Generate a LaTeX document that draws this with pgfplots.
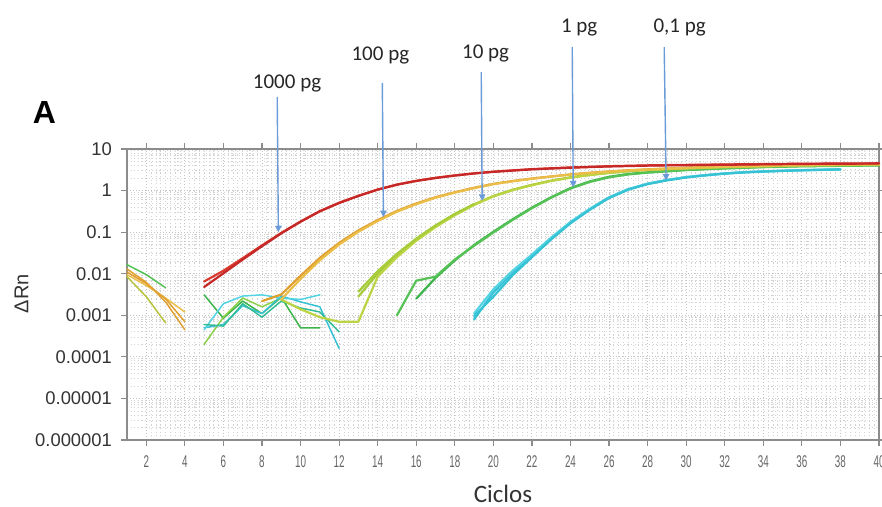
\documentclass[border=0pt]{standalone}
\usepackage{pgfplots}
\pgfplotsset{compat=1.18}
\usepackage{graphicx}
\usepackage{fontspec}
\setmainfont{Liberation Sans}
\newfontfamily\calibri{Carlito}
\usetikzlibrary{arrows.meta}

\definecolor{cRedA}{HTML}{C62828}
\definecolor{cRedB}{HTML}{DA3A2E}
\definecolor{cOrA}{HTML}{E0A030}
\definecolor{cOrB}{HTML}{EBBE4A}
\definecolor{cYgA}{HTML}{A6CC3A}
\definecolor{cYgB}{HTML}{BCD444}
\definecolor{cGrA}{HTML}{3CB44A}
\definecolor{cGrB}{HTML}{56C256}
\definecolor{cCyA}{HTML}{36C2D4}
\definecolor{cCyB}{HTML}{52D2E2}
\definecolor{cTeal}{HTML}{34BC98}
\definecolor{cLgr}{HTML}{8CD048}
\definecolor{cOlive}{HTML}{B8C43E}
\definecolor{cArrow}{HTML}{6A9BD8}
\definecolor{cAxis}{HTML}{8C8C8C}
\definecolor{cGrid}{HTML}{C4C4C4}

\begin{document}
\begin{tikzpicture}
\path[use as bounding box] (0,0) rectangle (441pt,253.5pt);

\begin{axis}[
  at={(63.5pt,33.5pt)}, anchor=south west,
  scale only axis, width=376pt, height=145.5pt,
  ymode=log, ymin=1e-6, ymax=10,
  xmin=1, xmax=40,
  clip=false,
  axis line style={draw=cAxis, line width=0.8pt},
  tick align=outside,
  major tick length=3pt, minor tick length=0pt,
  tick style={draw=cAxis, line width=0.6pt},
  xtick={2,4,...,40},
  minor x tick num=7,
  ytick={1e-6,1e-5,1e-4,1e-3,1e-2,1e-1,1,10},
  yticklabels={0.000001,0.00001,0.0001,0.001,0.01,0.1,1,10},
  minor ytick={2e-6,3e-6,4e-6,5e-6,6e-6,7e-6,8e-6,9e-6,
    2e-5,3e-5,4e-5,5e-5,6e-5,7e-5,8e-5,9e-5,
    2e-4,3e-4,4e-4,5e-4,6e-4,7e-4,8e-4,9e-4,
    0.002,0.003,0.004,0.005,0.006,0.007,0.008,0.009,
    0.02,0.03,0.04,0.05,0.06,0.07,0.08,0.09,
    0.2,0.3,0.4,0.5,0.6,0.7,0.8,0.9,
    2,3,4,5,6,7,8,9},
  grid=both,
  major grid style={draw=cGrid, line width=0.45pt, dash pattern=on 0.6pt off 0.9pt},
  minor grid style={draw=cGrid!75, line width=0.4pt, dash pattern=on 0.6pt off 1.2pt},
  yticklabel style={font=\fontsize{9.2}{10}\selectfont, text=black!80, anchor=east, xshift=-1pt},
  xticklabel={\scalebox{0.58}[1]{\pgfmathprintnumber[assume math mode=true]{\tick}}},
  xticklabel style={font=\fontsize{8.5}{9}\selectfont, text=black!60, anchor=north, yshift=-1.5pt},
  xlabel={Ciclos},
  xlabel style={font=\calibri\fontsize{12.5}{13}\selectfont, text=black!80,
    at={(axis description cs:0.5,0)}, anchor=base, yshift=-31pt},
  ylabel={ΔRn},
  ylabel style={font=\fontsize{10}{11}\selectfont, text=black!80,
    at={(axis description cs:-0.1403,0.503)}, anchor=center},
  every axis plot/.append style={line join=round, line cap=round},
]

% --- baseline noise, cycles 1-4
\addplot[cOrA, line width=0.75pt] coordinates {(1,0.013) (2,0.0062) (3,0.0021) (4,0.00045)};
\addplot[cOrB, line width=0.75pt] coordinates {(1,0.0095) (2,0.0052) (3,0.0026) (4,0.0012)};
\addplot[cOrA, line width=0.75pt] coordinates {(1,0.011) (2,0.0058) (3,0.0025) (4,0.0007)};
\addplot[cGrB, line width=0.75pt] coordinates {(1,0.0165) (2,0.0095) (3,0.0046)};
\addplot[cOlive, line width=0.75pt] coordinates {(1,0.0085) (2,0.0028) (3,0.00066)};

% --- baseline noise, cycles 5-13
\addplot[cGrA, line width=0.75pt] coordinates {(5,0.0031) (6,0.00085) (7,0.0022) (8,0.0011) (9,0.0027) (10,0.0005) (11,0.0005)};
\addplot[cLgr, line width=0.75pt] coordinates {(5,0.0002) (6,0.0009) (7,0.0026) (8,0.0016) (9,0.0026)};
\addplot[cCyA, line width=0.75pt] coordinates {(5,0.0005) (6,0.0006) (7,0.0017) (8,0.0011) (9,0.0029) (10,0.0021) (11,0.0016) (12,0.00016)};
\addplot[cCyB, line width=0.75pt] coordinates {(5,0.00045) (6,0.0019) (7,0.0029) (8,0.0031) (9,0.0026) (10,0.0024) (11,0.0031)};
\addplot[cTeal, line width=0.75pt] coordinates {(5,0.0006) (6,0.00055) (7,0.0019) (8,0.0009) (9,0.0022) (10,0.0015) (11,0.0012) (12,0.0004)};

% --- 0,1 pg
\addplot[cCyA, line width=1.1pt] coordinates {(19,0.000794) (20,0.00355) (21,0.0105) (22,0.0269) (23,0.0708) (24,0.170) (25,0.355) (26,0.676) (27,1.07) (28,1.45) (29,1.78) (30,2.09) (31,2.34) (32,2.57) (33,2.75) (34,2.88) (35,2.99) (36,3.09) (37,3.16) (38,3.24)};
\addplot[cCyB, line width=1.1pt] coordinates {(19,0.0011) (20,0.0042) (21,0.0118) (22,0.029) (23,0.074) (24,0.176) (25,0.365) (26,0.69) (27,1.09) (28,1.47) (29,1.80) (30,2.11) (31,2.36) (32,2.59) (33,2.77) (34,2.90) (35,3.01) (36,3.10) (37,3.18) (38,3.25)};
\addplot[cCyA, line width=1.1pt] coordinates {(19,0.00095) (20,0.0028) (21,0.0092) (22,0.025) (23,0.067) (24,0.163) (25,0.345) (26,0.66) (27,1.05) (28,1.43) (29,1.76) (30,2.07) (31,2.32) (32,2.55) (33,2.73) (34,2.86) (35,2.97) (36,3.07) (37,3.14) (38,3.22)};

% --- 1 pg
\addplot[cGrA, line width=1.1pt] coordinates {(16,0.00251) (17,0.00794) (18,0.0209) (19,0.0490) (20,0.102) (21,0.204) (22,0.389) (23,0.692) (24,1.15) (25,1.66) (26,2.14) (27,2.51) (28,2.75) (29,2.95) (30,3.16) (32,3.47) (34,3.72) (36,3.89) (38,3.98) (40,4.07)};
\addplot[cGrB, line width=1.1pt] coordinates {(15,0.001) (16,0.0068) (17,0.0085) (18,0.022) (19,0.047) (20,0.098) (21,0.197) (22,0.377) (23,0.675) (24,1.12) (25,1.61) (26,2.08) (27,2.44) (28,2.70) (29,2.90) (30,3.10) (32,3.40) (34,3.65) (36,3.83) (38,3.93) (40,4.02)};

% --- 10 pg
\addplot[cYgA, line width=1.1pt] coordinates {(13,0.00282) (14,0.0100) (15,0.0282) (16,0.0676) (17,0.141) (18,0.269) (19,0.468) (20,0.741) (21,1.05) (22,1.38) (23,1.74) (24,2.09) (25,2.40) (26,2.69) (27,2.95) (28,3.16) (29,3.31) (30,3.47) (32,3.72) (34,3.89) (36,4.07) (38,4.17) (40,4.27)};
\addplot[cYgB, line width=1.1pt] coordinates {(9,0.0024) (10,0.0014) (11,0.0009) (12,0.0007) (13,0.0007) (14,0.0085) (15,0.025) (16,0.062) (17,0.132) (18,0.255) (19,0.45) (20,0.72) (21,1.02) (22,1.34) (23,1.70) (24,2.04) (25,2.35) (26,2.64) (27,2.90) (28,3.10) (29,3.26) (30,3.40) (32,3.65) (34,3.83) (36,4.00) (38,4.10) (40,4.20)};
\addplot[cYgA, line width=1.1pt] coordinates {(13,0.0037) (14,0.0115) (15,0.030) (16,0.070) (17,0.145) (18,0.275) (19,0.475)};

% --- 100 pg
\addplot[cOrA, line width=1.1pt] coordinates {(8,0.00219) (9,0.00316) (10,0.00891) (11,0.0240) (12,0.0550) (13,0.110) (14,0.195) (15,0.324) (16,0.490) (17,0.692) (18,0.912) (19,1.17) (20,1.45) (21,1.70) (22,1.95) (23,2.19) (24,2.45) (25,2.69) (26,2.88) (27,3.09) (28,3.24) (29,3.39) (30,3.55) (32,3.80) (34,3.98) (36,4.17) (38,4.27) (40,4.37)};
\addplot[cOrB, line width=1.1pt] coordinates {(9,0.0024) (10,0.0075) (11,0.021) (12,0.050) (13,0.102) (14,0.185) (15,0.31) (16,0.47) (17,0.67) (18,0.89) (19,1.14) (20,1.42) (21,1.67) (22,1.92) (23,2.16) (24,2.42) (25,2.65) (26,2.85) (27,3.05) (28,3.21) (29,3.36) (30,3.50) (32,3.74) (34,3.93) (36,4.10) (38,4.22) (40,4.32)};

% --- 1000 pg
\addplot[cRedB, line width=1.1pt] coordinates {(5,0.0065) (6,0.0118) (7,0.0236) (8,0.048) (9,0.096) (10,0.18) (11,0.32) (12,0.51) (13,0.75) (14,1.06) (15,1.40) (16,1.72) (17,2.03) (18,2.32) (19,2.60) (20,2.85) (21,3.06) (22,3.28) (23,3.44) (24,3.60) (25,3.73) (26,3.86) (27,3.95) (28,4.04) (29,4.10) (30,4.15) (32,4.25) (34,4.34) (36,4.42) (38,4.48) (40,4.52)};
\addplot[cRedA, line width=1.1pt] coordinates {(5,0.00479) (6,0.0102) (7,0.0219) (8,0.0457) (9,0.0933) (10,0.178) (11,0.316) (12,0.501) (13,0.741) (14,1.05) (15,1.38) (16,1.70) (17,2.00) (18,2.29) (19,2.57) (20,2.82) (21,3.02) (22,3.24) (23,3.39) (24,3.55) (25,3.67) (26,3.80) (27,3.89) (28,3.98) (29,4.03) (30,4.07) (32,4.17) (34,4.27) (36,4.37) (38,4.42) (40,4.47)};

% --- dilution labels and pointers
\begin{scope}[cArrow, line width=0.7pt, -{Triangle[length=3.2pt,width=3.2pt]}]
  \draw (axis cs:8.79,180)  -- (axis cs:8.85,0.1);
  \draw (axis cs:14.24,386) -- (axis cs:14.30,0.23);
  \draw (axis cs:19.37,710) -- (axis cs:19.42,0.57);
  \draw (axis cs:24.09,2833) -- (axis cs:24.14,1.2);
  \draw (axis cs:28.86,2833) -- (axis cs:28.96,1.75);
\end{scope}
\begin{scope}[every node/.style={font=\calibri\fontsize{10.5}{12}\selectfont, text=black!85, anchor=base}]
  \node at (axis cs:9.30,292)   {1000 pg};
  \node at (axis cs:14.14,1380) {100 pg};
  \node at (axis cs:19.60,1540) {10 pg};
  \node at (axis cs:24.45,6495) {1 pg};
  \node at (axis cs:29.66,6495) {0,1 pg};
\end{scope}
\end{axis}

\node[font=\bfseries\fontsize{16}{18}\selectfont, text=black] at (22.25pt,197.25pt) {A};
\end{tikzpicture}
\end{document}
